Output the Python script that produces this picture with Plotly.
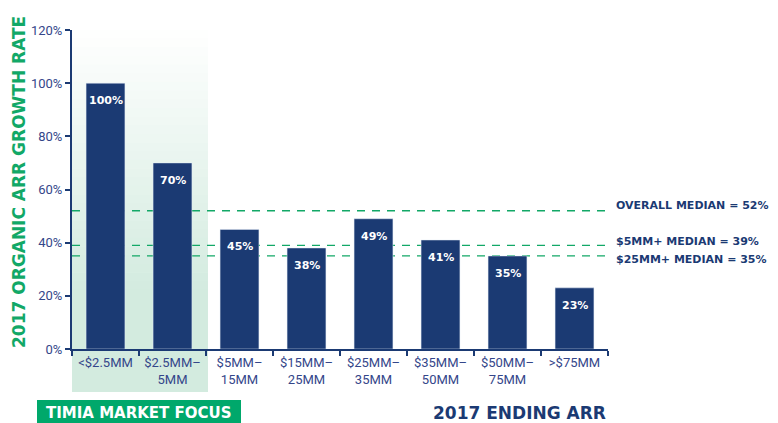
import plotly.graph_objects as go

categories = ["<$2.5MM", "$2.5MM–<br>5MM", "$5MM–<br>15MM", "$15MM–<br>25MM",
              "$25MM–<br>35MM", "$35MM–<br>50MM", "$50MM–<br>75MM", ">$75MM"]
growth = [100, 70, 45, 38, 49, 41, 35, 23]
median_labels = ["OVERALL MEDIAN = 52%", "$5MM+ MEDIAN = 39%", "$25MM+ MEDIAN = 35%"]
median_values = [52, 39, 35]
median_text_shift = [5, 4, -4]
y_ticks = [0, 20, 40, 60, 80, 100, 120]
y_tick_text = [f"{v}%" for v in y_ticks]

NAVY = "#1b3a73"
TICK = "#34468a"
GREEN = "#12a867"
FONT = "Roboto"
BOLD = "DejaVu Sans"

fig = go.Figure()
fig.add_trace(go.Bar(
    x=categories, y=growth, marker_color=NAVY, width=0.58, hoverinfo="skip",
))

shapes = []
top_px, full_px, bottom_px = 30, 290, 392
n = 30
def to_paper(py):
    return (349 - py) / 319
c0 = (255, 255, 255)
c1 = (211, 235, 223)
for i in range(n):
    y0p = top_px + (full_px - top_px) * i / n
    y1p = top_px + (full_px - top_px) * (i + 1) / n
    t = (i + 0.5) / n
    col = tuple(round(c0[k] + (c1[k] - c0[k]) * t) for k in range(3))
    shapes.append(dict(type="rect", xref="x", yref="paper", x0=-0.5, x1=1.53,
                       y0=to_paper(y1p), y1=to_paper(y0p) + 0.001, fillcolor=f"rgb{col}",
                       line_width=0, layer="below"))
shapes.append(dict(type="rect", xref="x", yref="paper", x0=-0.5, x1=1.53,
                   y0=to_paper(bottom_px), y1=to_paper(full_px) + 0.002,
                   fillcolor="rgb(211,235,223)", line_width=0, layer="below"))
for v in median_values:
    shapes.append(dict(type="line", xref="paper", yref="y", x0=0, x1=1.0, y0=v, y1=v,
                       line=dict(color=GREEN, width=1.3, dash="8px,7px"), layer="below"))
shapes.append(dict(type="rect", xref="paper", yref="paper",
                   x0=(37 - 72) / 536, x1=(241 - 72) / 536,
                   y0=to_paper(440), y1=to_paper(400), fillcolor="#00a86b", line_width=0))

annotations = []
for c, v in zip(categories, growth):
    annotations.append(dict(text=f"{v}%", x=c, y=v, xref="x", yref="y", yanchor="top",
                            yshift=-9, showarrow=False,
                            font=dict(color="white", size=11, family=BOLD, weight="bold")))
for lab, v, s in zip(median_labels, median_values, median_text_shift):
    annotations.append(dict(text=lab, xref="paper", yref="y", x=(614 - 72) / 536, y=v,
                            xanchor="left", yanchor="middle", yshift=s, showarrow=False,
                            font=dict(color=NAVY, size=11, family=BOLD, weight="bold")))
annotations.append(dict(text="TIMIA MARKET FOCUS", xref="paper", yref="paper",
                        x=(139 - 72) / 536, y=to_paper(413), xanchor="center", yanchor="middle",
                        showarrow=False, font=dict(color="white", size=15, family=BOLD, weight="bold")))
annotations.append(dict(text="2017 ENDING ARR", xref="paper", yref="paper",
                        x=1.0, y=to_paper(413), xanchor="right", yanchor="middle",
                        showarrow=False, font=dict(color=NAVY, size=17, family=BOLD, weight="bold")))
annotations.append(dict(text="2017 ORGANIC ARR GROWTH RATE", xref="paper", yref="paper",
                        x=(19 - 72) / 536, y=to_paper(182), xanchor="center", yanchor="middle",
                        textangle=-90, showarrow=False,
                        font=dict(color=GREEN, size=17, family=BOLD, weight="bold")))

# page body has an 8px margin; shift figure geometry accordingly
fig.update_layout(
    width=770, height=415,
    margin=dict(l=64, r=170, t=22, b=74),
    paper_bgcolor="white", plot_bgcolor="rgba(0,0,0,0)",
    showlegend=False,
    shapes=shapes, annotations=annotations,
    font=dict(family=FONT, color=TICK),
)
fig.update_yaxes(range=[0, 120], tickvals=y_ticks, ticktext=y_tick_text, showgrid=False,
                 zeroline=False, showline=True, linecolor=NAVY, linewidth=2,
                 ticks="outside", ticklen=5, tickcolor=NAVY, tickwidth=1.5,
                 tickfont=dict(size=13, color=TICK, family=FONT))
fig.update_xaxes(showgrid=False, showline=True, linecolor=NAVY, linewidth=2,
                 ticks="outside", ticklen=5, tickcolor=NAVY, tickwidth=1.5,
                 tickson="boundaries", range=[-0.5, 7.5],
                 tickfont=dict(size=13, color=TICK, family=FONT))

fig.write_html("out.html")
